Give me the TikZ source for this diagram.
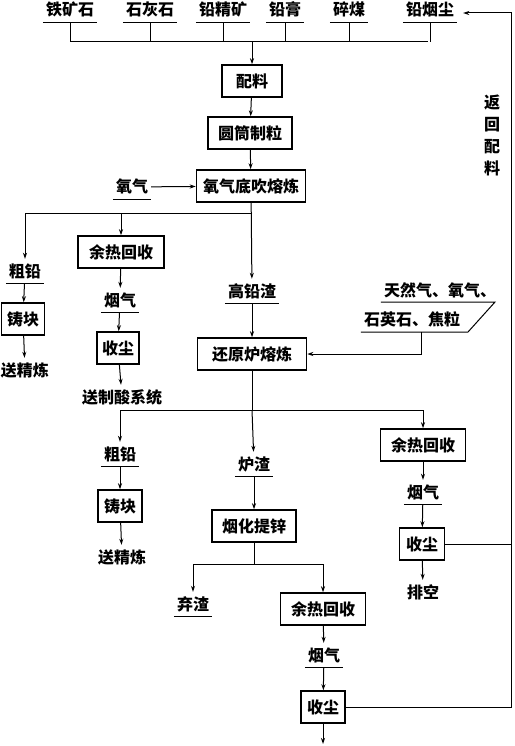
\documentclass[tikz,border=0pt]{standalone}
\usepackage{fontspec}
\setmainfont{Noto Sans CJK SC}
\usetikzlibrary{arrows.meta}

\begin{document}
\begin{tikzpicture}[
        x=1pt, y=-1pt,
        box/.style={
            draw,
            line width=1.5pt,
            minimum height=32pt,
            inner xsep=5pt,
            font=\fontsize{16}{18}\selectfont\bfseries
        },
        lbl/.style={
            inner xsep=3pt,
            inner ysep=4pt,
            text height=14pt,
            text depth=2pt,
            font=\fontsize{16}{18}\selectfont\bfseries
        },
        conn/.style={line width=1pt},
        arr/.style={line width=1pt, -{Stealth[length=6pt,width=4pt]}}
    ]
        \useasboundingbox (0,0) rectangle (514,746);

        % Raw materials
        \node[lbl] (ore)   at (70,10)  {铁矿石};
        \node[lbl] (lime)  at (150,10) {石灰石};
        \node[lbl] (conc)  at (223,10) {铅精矿};
        \node[lbl] (paste) at (285,10) {铅膏};
        \node[lbl] (coal)  at (349,10) {碎煤};
        \node[lbl] (dust)  at (430,10) {铅烟尘};
        \coordinate (busL) at (70,42);
        \coordinate (busR) at (428,42);

        % Charge preparation and smelting
        \node[box, minimum width=60pt] (mix)   at (252,81)  {配料};
        \node[box, minimum width=84pt] (gran)  at (250,133) {圆筒制粒};
        \node[box, minimum width=109pt] (smelt) at (251,186) {氧气底吹熔炼};
        \node[lbl] (oxy) at (132,187) {氧气};
        \coordinate (split1) at (252,213);

        % Left branch
        \node[lbl] (crude1) at (25,271) {粗铅};
        \node[box, minimum width=43pt] (cast1) at (23,319) {铸块};
        \node[lbl] (ref1) at (25,370) {送精炼};
        \node[box, minimum width=86pt] (whr1) at (121,252) {余热回收};
        \node[lbl] (flue1) at (120,300) {烟气};
        \node[box, minimum width=41pt] (dc1) at (118,348) {收尘};
        \node[lbl] (acid) at (122,397) {送制酸系统};

        % Reduction furnace
        \node[lbl] (hislag) at (252,291) {高铅渣};
        \node[box, minimum width=109pt] (reduce) at (252,354) {还原炉熔炼};
        \node[lbl] (gas1) at (440,290) {天然气、氧气、};
        \node[lbl] (gas2) at (412,319) {石英石、焦粒};
        \coordinate (gasB) at (421,332);
        \coordinate (split2) at (252,410);

        % After reduction
        \node[lbl] (crude2) at (120,454) {粗铅};
        \node[box, minimum width=44pt] (cast2) at (120,506) {铸块};
        \node[lbl] (ref2) at (122,557) {送精炼};
        \node[lbl] (slag) at (254,464) {炉渣};
        \node[box, minimum width=84pt] (fume) at (254,526) {烟化提锌};
        \coordinate (split3) at (254,564);
        \node[lbl] (waste) at (193,604) {弃渣};
        \node[box, minimum width=85pt] (whr3) at (323,609) {余热回收};
        \node[lbl] (flue3) at (324,655) {烟气};
        \node[box, minimum width=44pt] (dc3) at (323,707) {收尘};
        \coordinate (out) at (323,744);
        \node[box, minimum width=85pt] (whr2) at (423,445) {余热回收};
        \node[lbl] (flue2) at (423,492) {烟气};
        \node[box, minimum width=45pt] (dc2) at (422,544) {收尘};
        \node[lbl] (vent) at (423,592) {排空};

        % Return line
        \coordinate (ret) at (511,13);
        \node[font=\fontsize{16}{22}\selectfont\bfseries, align=center] (back) at (492,135) {返\\回\\配\\料};

        % Underlines
        \foreach \n in {ore,lime,conc,paste,coal,dust,oxy,crude1,flue1,hislag,crude2,slag,waste,flue3,flue2}
            \draw[conn] (\n.south west) -- (\n.south east);

        % Material feed
        \foreach \n in {ore,lime,conc,paste,coal,dust}
            \draw[conn] (\n.south) -- (\n.south |- busL);
        \draw[conn] (busL) -- (busR);
        \draw[arr] (mix.north |- busL) -- (mix);
        \draw[arr] (mix) -- (gran);
        \draw[arr] (gran) -- (smelt);
        \draw[arr] (oxy) -- (smelt);

        % Smelting products
        \draw[arr] (smelt) -- (hislag);
        \draw[arr] (split1) -| (crude1);
        \draw[arr] (split1) -| (whr1);
        \draw[arr] (crude1) -- (cast1);
        \draw[arr] (cast1) -- (ref1);
        \draw[arr] (whr1) -- (flue1);
        \draw[arr] (flue1) -- (dc1);
        \draw[arr] (dc1) -- (acid);

        % Reduction
        \draw[arr] (hislag) -- (reduce);
        \draw[conn] (gas1.south west) -- (495,302) -- (468,332) -- (gas2.south west |- gasB);
        \draw[arr] (gasB) |- (reduce);
        \draw[conn] (reduce) -- (split2);
        \draw[arr] (split2) -| (crude2);
        \draw[arr] (split2) -| (whr2);
        \draw[arr] (split2) -- (slag);
        \draw[arr] (crude2) -- (cast2);
        \draw[arr] (cast2) -- (ref2);

        % Fuming
        \draw[arr] (slag) -- (fume);
        \draw[conn] (fume) -- (split3);
        \draw[arr] (split3) -| (waste);
        \draw[arr] (split3) -| (whr3);
        \draw[arr] (whr3) -- (flue3);
        \draw[arr] (flue3) -- (dc3);
        \draw[arr] (dc3) -- (out);
        \draw[arr] (whr2) -- (flue2);
        \draw[arr] (flue2) -- (dc2);
        \draw[arr] (dc2) -- (vent);

        % Dust return
        \draw[conn] (dc2) -- (dc2 -| ret);
        \draw[arr, shorten >=6pt] (dc3) -| (ret) -- (dust.east |- ret);
    \end{tikzpicture}
\end{document}
